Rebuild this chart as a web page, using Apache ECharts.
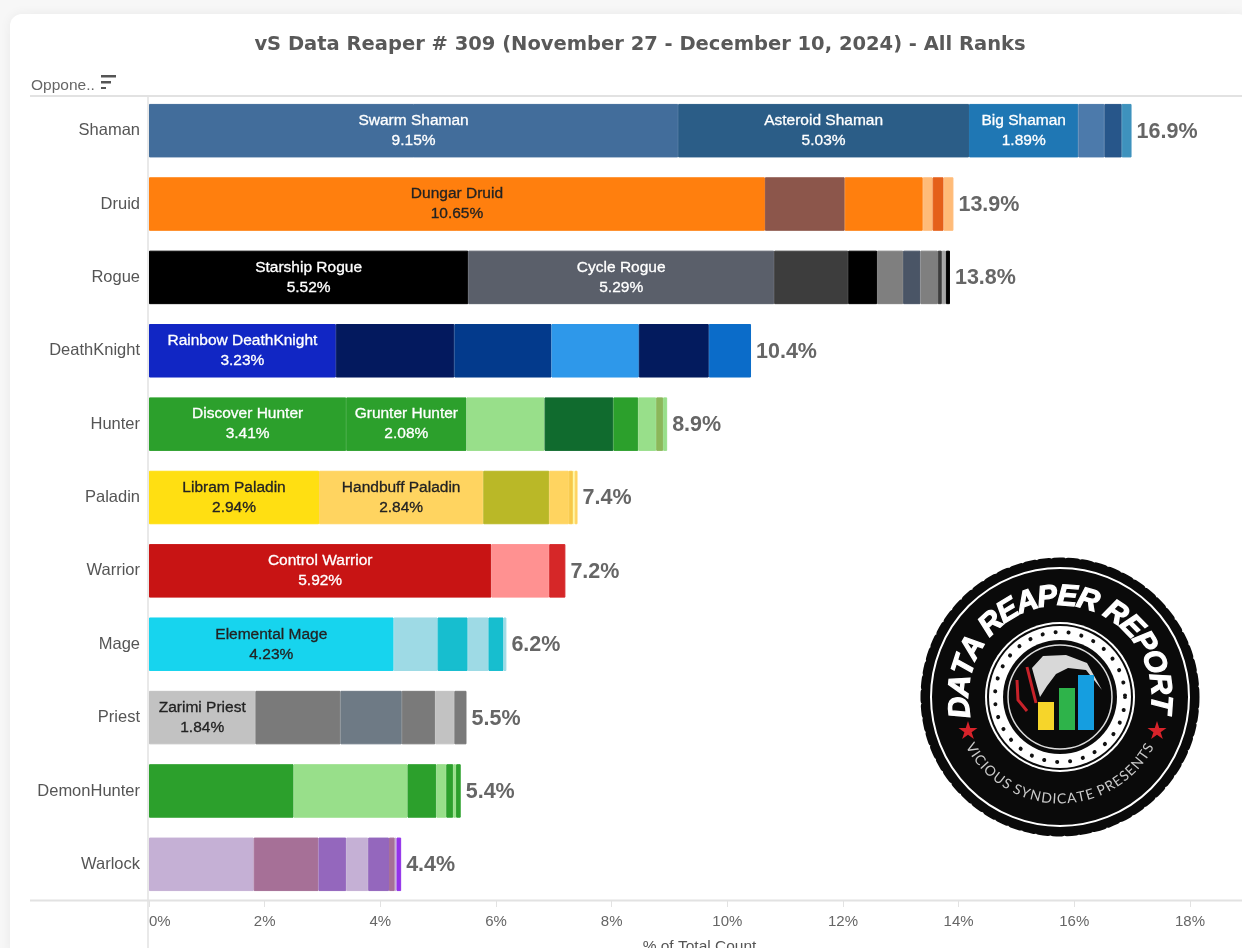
<!DOCTYPE html>
<html>
<head>
<meta charset="utf-8">
<title>vS Data Reaper # 309</title>
<style>
html, body { margin: 0; padding: 0; background: #f7f7f7; overflow: hidden; }
#grafico { width: 1242px; height: 948px; }
</style>
<script src="https://cdn.jsdelivr.net/npm/echarts@6/dist/echarts.min.js"></script>
</head>
<body>
<div id="grafico"></div>
<script>
var titleText = 'vS Data Reaper # 309 (November 27 - December 10, 2024) - All Ranks';
var axisName = '% of Total Count';
var classes = ['Shaman', 'Druid', 'Rogue', 'DeathKnight', 'Hunter', 'Paladin', 'Warrior', 'Mage', 'Priest', 'DemonHunter', 'Warlock'];
var totals = [16.9, 13.9, 13.8, 10.4, 8.9, 7.4, 7.2, 6.2, 5.5, 5.4, 4.4];

// share of each archetype, biggest first
var shamanValues = [9.15, 5.03, 1.89, 0.45, 0.30, 0.17];
var druidValues = [10.65, 1.38, 1.35, 0.17, 0.19, 0.17];
var rogueValues = [5.52, 5.29, 1.28, 0.50, 0.45, 0.30, 0.30, 0.07, 0.07, 0.07];
var deathKnightValues = [3.23, 2.05, 1.68, 1.51, 1.21, 0.73];
var hunterValues = [3.41, 2.08, 1.35, 1.19, 0.43, 0.31, 0.12, 0.07];
var paladinValues = [2.94, 2.84, 1.14, 0.34, 0.07, 0.03, 0.05];
var warriorValues = [5.92, 1.00, 0.28];
var mageValues = [4.23, 0.76, 0.52, 0.36, 0.26, 0.05];
var priestValues = [1.84, 1.47, 1.06, 0.58, 0.33, 0.21];
var demonHunterValues = [2.50, 1.97, 0.50, 0.17, 0.12, 0.05, 0.08];
var warlockValues = [1.81, 1.12, 0.48, 0.38, 0.36, 0.10, 0.03, 0.08];

var shamanNames = ['Swarm Shaman', 'Asteroid Shaman', 'Big Shaman'];
var druidNames = ['Dungar Druid'];
var rogueNames = ['Starship Rogue', 'Cycle Rogue'];
var deathKnightNames = ['Rainbow DeathKnight'];
var hunterNames = ['Discover Hunter', 'Grunter Hunter'];
var paladinNames = ['Libram Paladin', 'Handbuff Paladin'];
var warriorNames = ['Control Warrior'];
var mageNames = ['Elemental Mage'];
var priestNames = ['Zarimi Priest'];
var demonHunterNames = [];
var warlockNames = [];

var shamanColors = ['#426d9b', '#2b5d87', '#1f77b4', '#4c7aab', '#27568a', '#3e92bd'];
var druidColors = ['#ff7f0e', '#8c564b', '#ff7f0e', '#ffbb78', '#e5601a', '#ffbb78'];
var rogueColors = ['#000000', '#5a5f6a', '#3d3d3d', '#000000', '#7f7f7f', '#4a5566', '#7f7f7f', '#3d3d3d', '#a6a6a6', '#000000'];
var deathKnightColors = ['#1126c4', '#03195e', '#033a8c', '#2e98ea', '#031b5e', '#0b6cc9'];
var hunterColors = ['#2ca02c', '#2ca02c', '#98df8a', '#106b2e', '#2ca02c', '#98df8a', '#8bb85a', '#98df8a'];
var paladinColors = ['#ffdf12', '#ffd460', '#bab827', '#ffd460', '#f7c948', '#fff9a0', '#ffd460'];
var warriorColors = ['#c81414', '#ff9191', '#d62728'];
var mageColors = ['#17d4ee', '#9edae5', '#17becf', '#9edae5', '#17becf', '#9edae5'];
var priestColors = ['#c2c2c2', '#7a7a7a', '#6e7a85', '#7a7a7a', '#c2c2c2', '#7a7a7a'];
var demonHunterColors = ['#2ca02c', '#98df8a', '#2ca02c', '#98df8a', '#2ca02c', '#98df8a', '#2ca02c'];
var warlockColors = ['#c5b0d5', '#a67097', '#9467bd', '#c5b0d5', '#9467bd', '#a67097', '#c5b0d5', '#9333ea'];

var darkLabelColors = ['#ff7f0e', '#ffdf12', '#ffd460', '#c2c2c2', '#17d4ee'];

var allValues = [shamanValues, druidValues, rogueValues, deathKnightValues, hunterValues, paladinValues, warriorValues, mageValues, priestValues, demonHunterValues, warlockValues];
var allNames = [shamanNames, druidNames, rogueNames, deathKnightNames, hunterNames, paladinNames, warriorNames, mageNames, priestNames, demonHunterNames, warlockNames];
var allColors = [shamanColors, druidColors, rogueColors, deathKnightColors, hunterColors, paladinColors, warriorColors, mageColors, priestColors, demonHunterColors, warlockColors];

// one stacked series per layer, rows that have fewer segments just skip it
var series = [];
for (var layer = 0; layer < 10; layer++) {
    var rows = classes.map(function (c, row) {
        var value = allValues[row][layer];
        if (value === undefined) return { value: null };
        var name = allNames[row][layer];
        var color = allColors[row][layer];
        var textColor = darkLabelColors.indexOf(color) >= 0 ? '#222' : '#fff';
        return {
            value: value,
            // same colour border hides the seam between equal segments
            itemStyle: { color: color, borderColor: color, borderWidth: 1 },
            label: {
                show: !!name,
                formatter: name ? name + '\n' + value.toFixed(2) + '%' : '',
                color: textColor,
                textBorderColor: textColor,
                textBorderWidth: 0.3
            }
        };
    });
    series.push({
        type: 'bar',
        stack: 'share',
        barWidth: 53.5,
        silent: true,
        data: rows,
        label: { position: 'inside', fontFamily: 'Liberation Sans', fontSize: 15.5, lineHeight: 20 }
    });
}

// zero width bar on top of the stack, only carries the total
series.push({
    type: 'bar',
    stack: 'share',
    barWidth: 53.5,
    silent: true,
    data: totals.map(function () { return 0; }),
    label: {
        show: true,
        position: 'right',
        distance: 5,
        offset: [0, 1],
        formatter: function (p) { return totals[p.dataIndex].toFixed(1) + '%'; },
        fontFamily: 'Liberation Sans',
        fontSize: 21.5,
        fontWeight: 'bold',
        color: '#666'
    }
});

function line(x1, y1, x2, y2, width, color) {
    return { type: 'line', z: 1, silent: true, shape: { x1: x1, y1: y1, x2: x2, y2: y2 }, style: { stroke: color, lineWidth: width } };
}

function circle(r, fill, stroke, width, dash) {
    return {
        type: 'circle', z: 5, silent: true,
        shape: { cx: logoX, cy: logoY, r: r },
        style: { fill: fill, stroke: stroke, lineWidth: width || 0, lineDash: dash, lineCap: 'round' }
    };
}

function box(x, y, w, h, color) {
    return { type: 'rect', z: 6, silent: true, shape: { x: x, y: y, width: w, height: h }, style: { fill: color } };
}

function star(x, y) {
    var pts = [];
    for (var i = 0; i < 10; i++) {
        var a = i * Math.PI / 5, r = i % 2 ? 3.8 : 10;
        pts.push([x + r * Math.sin(a), y - r * Math.cos(a)]);
    }
    return { type: 'polygon', z: 6, silent: true, shape: { points: pts }, style: { fill: '#d8232a' } };
}

// letters of the badge, set one by one along the ring, spaced by their real width
var measure = document.createElement('canvas').getContext('2d');
function arcText(text, radius, from, to, bottom, font) {
    var out = [];
    measure.font = font.style + ' ' + font.weight + ' ' + font.size + 'px "' + font.family + '"';
    var widths = text.split('').map(function (ch) { return measure.measureText(ch).width; });
    var total = widths.reduce(function (s, w) { return s + w; }, 0) - widths[0] / 2 - widths[widths.length - 1] / 2;
    var run = 0;
    text.split('').forEach(function (ch, i) {
        var deg = from + (to - from) * run / total;
        var a = deg * Math.PI / 180;
        out.push({
            type: 'text', z: 6, silent: true,
            x: logoX + radius * Math.sin(a),
            y: bottom ? logoY + radius * Math.cos(a) : logoY - radius * Math.cos(a),
            rotation: bottom ? a : -a,
            style: {
                text: ch, align: 'center', verticalAlign: 'middle', fill: font.color,
                stroke: font.color, lineWidth: font.stroke || 0,
                fontFamily: font.family, fontSize: font.size, fontWeight: font.weight, fontStyle: font.style
            }
        });
        if (i < widths.length - 1) run += widths[i] / 2 + widths[i + 1] / 2;
    });
    return out;
}

var logoX = 1060;
var logoY = 697;

var decoration = [
    { type: 'rect', z: 0, silent: true, shape: { x: 10, y: 14, width: 1240, height: 950, r: 12 }, style: { fill: '#fff', shadowBlur: 12, shadowColor: 'rgba(0,0,0,0.06)' } },
    line(30, 96, 1242, 96, 2, '#e2e2e2'),
    line(30, 900.5, 1242, 900.5, 2, '#e2e2e2'),
    line(148, 96, 148, 948, 1.5, '#e2e2e2'),
    {
        type: 'text', z: 2, silent: true, x: 31, y: 86,
        style: { text: 'Oppone..', fontFamily: 'Liberation Sans', fontSize: 15.5, fill: '#666', verticalAlign: 'middle' }
    },
    box(101, 75, 15, 2.5, '#555'),
    box(101, 81, 10, 2.5, '#555'),
    box(101, 87, 5, 2, '#555'),

    circle(135, '#0a0a0a', '#0a0a0a', 9, [9, 5]),
    circle(129, null, '#fff', 2),
    circle(75, '#fff'),
    circle(73, '#0a0a0a'),
    circle(71, '#fff'),
    circle(65, null, '#111', 4, [0.1, 13]),
    circle(57, '#0a0a0a'),
    circle(52, null, '#ddd', 1.5),
    {
        type: 'polygon', z: 6, silent: true,
        shape: { points: [[1040, 697], [1032, 668], [1043, 656], [1066, 655], [1087, 663], [1102, 690], [1086, 670], [1068, 668], [1056, 674], [1047, 686]] },
        style: { fill: '#d8d8d8' }
    },
    { type: 'polyline', z: 6, silent: true, shape: { points: [[1017, 680], [1018, 700], [1027, 711]] }, style: { stroke: '#c8222a', lineWidth: 3, fill: null } },
    { type: 'polyline', z: 6, silent: true, shape: { points: [[1027, 667], [1036, 703]] }, style: { stroke: '#c8222a', lineWidth: 3, fill: null } },
    box(1038, 702, 16, 28, '#f6d52a'),
    box(1059, 688, 16, 42, '#2eb34a'),
    box(1078, 675, 16, 55, '#159ee0'),
    star(968, 731),
    star(1157, 731)
].concat(
    arcText('DATA REAPER REPORT', 100, -96, 94, false, { color: '#fff', family: 'Liberation Sans', size: 30, weight: 'bold', style: 'italic', stroke: 1.2 }),
    arcText('VICIOUS SYNDICATE PRESENTS', 102, -60, 60, true, { color: '#c9c9c9', family: 'Lato', size: 14, weight: 'normal', style: 'normal' })
);

var chartDom = document.getElementById('grafico');
var myChart = echarts.init(chartDom, null, { renderer: 'canvas' });

var option = {
    animation: false,
    backgroundColor: 'transparent',
    title: {
        text: titleText,
        left: 635,
        top: 30,
        textAlign: 'center',
        textStyle: { fontFamily: 'DejaVu Sans', fontSize: 19.5, fontWeight: 'bold', color: '#595959' }
    },
    grid: { left: 149, top: 94, width: 1093, height: 807, containLabel: false, outerBoundsMode: 'none' },
    xAxis: {
        type: 'value',
        min: 0,
        max: 18.9,
        interval: 2,
        name: axisName,
        nameLocation: 'middle',
        nameGap: 38,
        nameTextStyle: { fontFamily: 'Liberation Sans', fontSize: 15.5, color: '#555', padding: [0, 0, 0, 8] },
        splitLine: { show: false },
        axisLine: { show: false },
        axisTick: { show: true, length: 6, lineStyle: { color: '#e2e2e2' } },
        axisLabel: {
            formatter: '{value}%',
            showMaxLabel: false,
            alignMinLabel: 'left',
            margin: 13,
            fontFamily: 'Liberation Sans',
            fontSize: 15,
            color: '#666'
        }
    },
    yAxis: {
        type: 'category',
        inverse: true,
        data: classes,
        axisLine: { show: false },
        axisTick: { show: false },
        axisLabel: { margin: 9, padding: [5, 0, 0, 0], fontFamily: 'Liberation Sans', fontSize: 16.5, color: '#555' }
    },
    graphic: { elements: decoration },
    series: series
};

myChart.setOption(option);
</script>
</body>
</html>
